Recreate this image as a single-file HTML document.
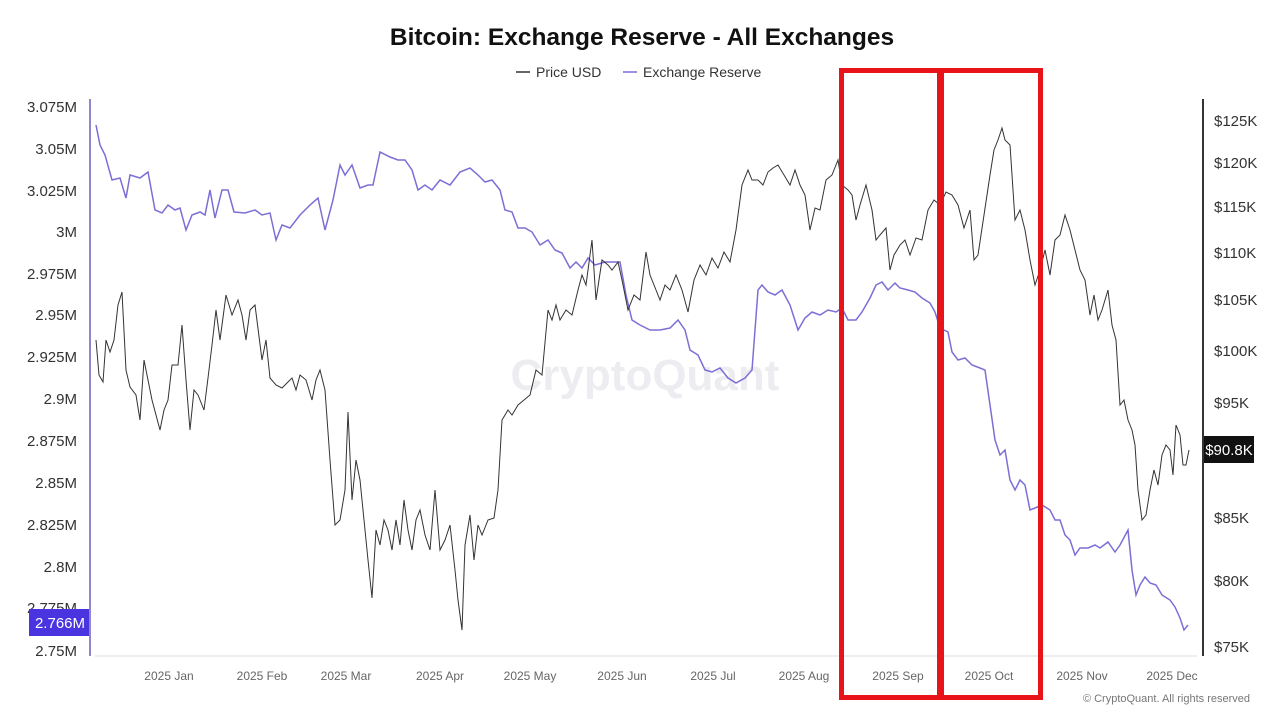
<!DOCTYPE html>
<html><head><meta charset="utf-8"><style>
body{margin:0;background:#fff;}
svg{display:block;font-family:"Liberation Sans",sans-serif;}
</style></head><body>
<svg width="1280" height="720" viewBox="0 0 1280 720">
<rect width="1280" height="720" fill="#fff"/>
<text x="642" y="45" text-anchor="middle" font-size="24.5" font-weight="bold" fill="#111">Bitcoin: Exchange Reserve - All Exchanges</text>
<line x1="516" y1="72" x2="530" y2="72" stroke="#333" stroke-width="1.5"/>
<text x="536" y="77" font-size="14" fill="#333">Price USD</text>
<line x1="623" y1="72" x2="637" y2="72" stroke="#7b6fd6" stroke-width="1.5"/>
<text x="643" y="77" font-size="14" fill="#333">Exchange Reserve</text>
<text x="645" y="390" text-anchor="middle" font-size="44" fill="#ededf1" font-weight="bold">CryptoQuant</text>
<g font-size="15" fill="#333" text-anchor="end">
<text x="77" y="112">3.075M</text><text x="77" y="154">3.05M</text><text x="77" y="196">3.025M</text><text x="77" y="237">3M</text><text x="77" y="279">2.975M</text><text x="77" y="320">2.95M</text><text x="77" y="362">2.925M</text><text x="77" y="404">2.9M</text><text x="77" y="446">2.875M</text><text x="77" y="488">2.85M</text><text x="77" y="530">2.825M</text><text x="77" y="572">2.8M</text><text x="77" y="613">2.775M</text><text x="77" y="656">2.75M</text>
</g>
<rect x="29" y="609" width="61" height="27" fill="#4a34e0"/>
<text x="60" y="628" text-anchor="middle" font-size="15" fill="#fff">2.766M</text>
<line x1="90" y1="99" x2="90" y2="656" stroke="#8f86cc" stroke-width="2"/>
<line x1="1203" y1="99" x2="1203" y2="656" stroke="#333" stroke-width="2"/>
<line x1="95" y1="656" x2="1197" y2="656" stroke="#ddd" stroke-width="1"/>
<g font-size="15" fill="#333">
<text x="1214" y="126">$125K</text><text x="1214" y="168">$120K</text><text x="1214" y="212">$115K</text><text x="1214" y="258">$110K</text><text x="1214" y="305">$105K</text><text x="1214" y="356">$100K</text><text x="1214" y="408">$95K</text><text x="1214" y="523">$85K</text><text x="1214" y="586">$80K</text><text x="1214" y="652">$75K</text>
</g>
<rect x="1204" y="436" width="50" height="27" fill="#111"/>
<text x="1229" y="455" text-anchor="middle" font-size="15" fill="#fff">$90.8K</text>
<g font-size="12" fill="#666" text-anchor="middle">
<text x="169" y="680">2025 Jan</text><text x="262" y="680">2025 Feb</text><text x="346" y="680">2025 Mar</text><text x="440" y="680">2025 Apr</text><text x="530" y="680">2025 May</text><text x="622" y="680">2025 Jun</text><text x="713" y="680">2025 Jul</text><text x="804" y="680">2025 Aug</text><text x="898" y="680">2025 Sep</text><text x="989" y="680">2025 Oct</text><text x="1082" y="680">2025 Nov</text><text x="1172" y="680">2025 Dec</text>
</g>
<text x="1250" y="702" text-anchor="end" font-size="11" fill="#777">© CryptoQuant. All rights reserved</text>
<polyline fill="none" stroke="#7b6fd6" stroke-width="1.5" points="96,125 100,145 105,155 112,180 120,178 126,198 130,175 140,178 148,172 155,210 162,213 168,205 175,210 180,208 186,230 192,215 200,212 205,215 210,190 215,218 222,190 228,190 234,212 245,213 255,210 262,215 270,213 276,240 282,225 290,228 300,215 310,205 318,198 325,230 333,200 340,165 345,175 352,165 360,188 368,185 373,185 380,152 390,157 398,160 405,160 412,170 418,190 425,185 432,190 440,180 450,185 460,172 470,168 478,175 485,182 492,180 500,190 505,210 512,212 518,228 525,228 532,232 540,245 548,240 555,250 562,253 570,268 576,262 582,268 588,258 595,265 605,262 612,262 620,262 626,295 632,320 640,325 650,330 660,330 670,328 678,320 685,330 690,350 698,355 705,370 712,372 720,368 728,378 736,383 745,378 752,370 758,290 762,285 768,292 775,295 782,290 790,305 798,330 805,318 812,312 820,315 828,310 836,312 842,308 848,320 856,320 862,312 870,298 876,285 882,282 888,290 895,283 900,288 908,290 915,292 922,298 930,303 935,312 940,328 948,332 952,352 958,360 965,358 972,365 980,368 985,370 990,405 995,440 1000,455 1005,450 1010,480 1015,490 1020,480 1025,485 1030,510 1035,508 1042,505 1050,510 1055,520 1060,520 1065,535 1070,540 1075,555 1080,548 1088,548 1095,545 1100,548 1108,542 1115,552 1120,545 1128,530 1132,570 1136,595 1140,585 1145,577 1150,583 1156,585 1162,595 1170,600 1175,607 1180,618 1184,630 1188,625"/>
<polyline fill="none" stroke="#333" stroke-width="1" points="96,340 99,375 103,382 106,340 110,352 114,340 118,305 122,292 126,370 130,387 136,395 140,420 144,360 148,380 152,400 156,415 160,430 164,410 168,400 172,365 178,365 182,325 186,380 190,430 194,390 198,395 204,410 208,378 212,345 216,310 220,340 226,295 232,315 238,300 242,315 246,340 250,310 255,305 262,360 266,340 270,378 276,385 282,388 288,382 292,378 296,390 300,375 306,380 312,400 316,380 320,370 325,390 330,460 335,525 340,520 345,490 348,412 352,500 356,460 360,480 365,530 368,560 372,598 376,530 380,545 384,520 388,530 392,550 396,520 400,545 404,500 408,530 412,550 416,520 420,510 425,535 430,550 435,490 440,550 445,540 450,525 455,570 458,600 462,630 465,545 470,515 474,560 478,525 482,535 488,520 494,518 498,490 502,420 508,410 512,415 518,405 524,400 530,395 536,370 542,375 548,310 552,320 556,305 560,320 566,310 572,315 578,290 582,275 586,285 592,240 596,300 602,260 608,265 612,270 618,262 622,280 628,310 634,295 640,300 646,252 650,275 656,290 660,300 665,285 670,290 676,275 682,290 688,312 694,280 700,265 706,275 712,258 718,268 724,252 730,262 736,230 742,185 748,170 752,180 758,180 763,185 768,172 773,168 778,165 784,175 790,185 795,170 800,185 805,195 810,230 815,208 820,210 826,180 832,175 838,160 842,185 848,190 852,195 856,220 860,205 866,185 872,210 876,240 880,235 886,228 890,270 894,255 900,245 905,240 910,255 916,238 922,240 928,210 934,200 940,205 946,192 952,195 958,205 964,228 970,210 974,260 978,255 984,215 990,175 994,150 998,140 1002,128 1005,140 1010,145 1015,220 1020,210 1025,230 1030,260 1035,285 1040,270 1045,250 1050,275 1055,240 1060,235 1065,215 1070,230 1075,250 1080,270 1085,280 1090,315 1094,295 1098,320 1102,310 1108,290 1112,325 1116,340 1120,405 1124,400 1128,420 1132,430 1135,445 1138,490 1142,520 1146,515 1150,490 1154,470 1158,485 1162,455 1166,445 1170,450 1173,475 1176,425 1180,435 1183,465 1186,465 1189,450"/>
<rect x="841.5" y="70.5" width="98" height="627" fill="none" stroke="#e8141a" stroke-width="5"/>
<rect x="941.5" y="70.5" width="99" height="627" fill="none" stroke="#e8141a" stroke-width="5"/>
</svg>
</body></html>
